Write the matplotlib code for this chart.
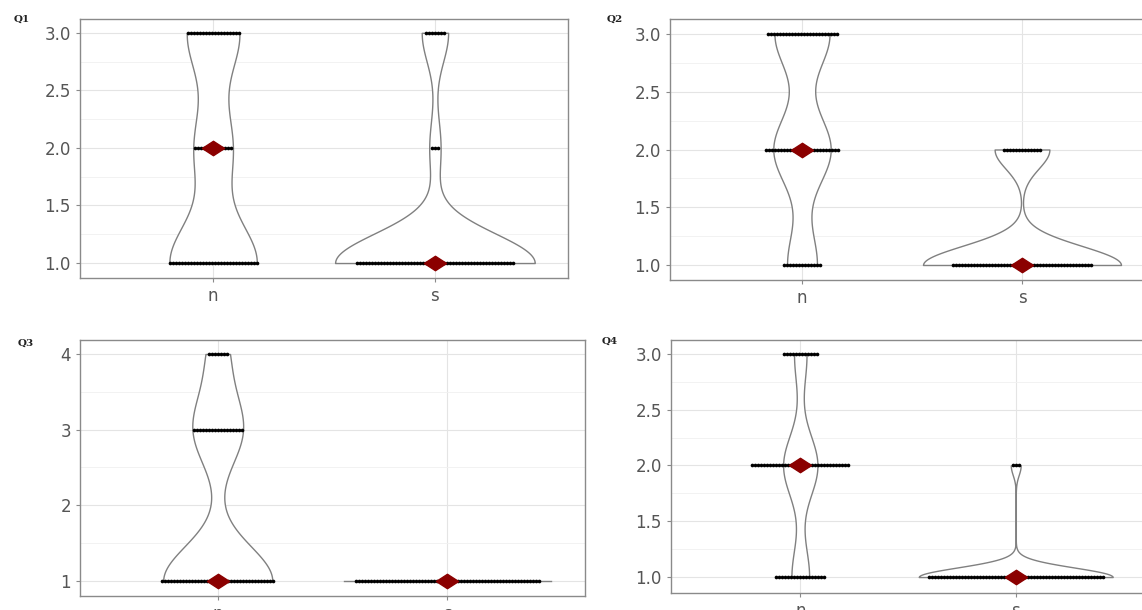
import numpy as np
import matplotlib
matplotlib.use("Agg")
import matplotlib.pyplot as plt
from matplotlib.path import Path

# respostas por grupo: quantidade de respostas em cada nivel
groups = ["n", "s"]

q1_levels = [1, 2, 3]
q1_n = [30, 13, 18]
q1_s = [53, 3, 7]

q2_levels = [1, 2, 3]
q2_n = [13, 25, 24]
q2_s = [47, 13, 0]

q3_levels = [1, 2, 3, 4]
q3_n = [38, 0, 17, 7]
q3_s = [62, 0, 0, 0]

q4_levels = [1, 2, 3]
q4_n = [17, 33, 12]
q4_s = [59, 3, 0]

q1_ticks = [1.0, 1.5, 2.0, 2.5, 3.0]
q3_ticks = [1, 2, 3, 4]


def nrd0(x):
    # mesma regra do bw.nrd0 do R
    hi = np.std(x, ddof=1)
    q75, q25 = np.percentile(x, [75, 25])
    lo = min(hi, (q75 - q25) / 1.34)
    if lo == 0:
        lo = hi if hi > 0 else (abs(x[0]) if x[0] != 0 else 1.0)
    return 0.9 * lo * len(x) ** -0.2


def densidade(x):
    bw = nrd0(x)
    if x.min() == x.max():
        grid = np.array([x[0]])
    else:
        grid = np.linspace(x.min(), x.max(), 512)
    d = np.exp(-0.5 * ((grid[:, None] - x[None, :]) / bw) ** 2).sum(axis=1)
    d = d / (len(x) * bw * np.sqrt(2 * np.pi))
    return grid, d


W, H = 1142, 610
fig = plt.figure(figsize=(W / 100, H / 100), dpi=100)
fig.patch.set_facecolor("white")

# caixas dos paineis em pixels (esq, topo, dir, base)
boxes = [(80, 19, 568, 278), (670, 19, 1154, 280),
         (80, 340, 585, 596), (671, 340, 1145, 593)]
ylims = [(0.87, 3.12), (0.87, 3.13), (0.80, 4.185), (0.857, 3.125)]
titles = ["Q1", "Q2", "Q3", "Q4"]
title_pos = [(14, 22), (607, 22), (18, 346), (602, 344)]
levels_all = [q1_levels, q2_levels, q3_levels, q4_levels]
counts_all = [(q1_n, q1_s), (q2_n, q2_s), (q3_n, q3_s), (q4_n, q4_s)]

diamond = Path([(-1, 0), (0, 0.65), (1, 0), (0, -0.65), (-1, 0)],
               [Path.MOVETO, Path.LINETO, Path.LINETO, Path.LINETO, Path.CLOSEPOLY])

for i in range(4):
    L, T, R, B = boxes[i]
    ax = fig.add_axes([L / W, 1 - B / H, (R - L) / W, (B - T) / H])
    ax.set_xlim(0.4, 2.6)
    ax.set_ylim(*ylims[i])
    ax.set_facecolor("white")

    if i == 2:
        ax.set_yticks(q3_ticks)
        ax.set_yticklabels([str(t) for t in q3_ticks])
        ax.set_yticks([1.5, 2.5, 3.5], minor=True)
    else:
        ax.set_yticks(q1_ticks)
        ax.set_yticklabels([f"{t:.1f}" for t in q1_ticks])
        ax.set_yticks([1.25, 1.75, 2.25, 2.75], minor=True)
    ax.set_xticks([1, 2])
    ax.set_xticklabels(groups)

    ax.grid(True, which="major", color="#e4e4e4", lw=0.8)
    ax.grid(True, which="minor", axis="y", color="#f0f0f0", lw=0.6)
    ax.set_axisbelow(True)
    for sp in ax.spines.values():
        sp.set_color("#8a8a8a")
        sp.set_linewidth(1.0)
    ax.tick_params(axis="both", which="major", colors="#8a8a8a", length=3,
                   labelcolor="#555555", labelsize=12)
    ax.tick_params(axis="both", which="minor", length=0)

    # espacamento dos pontos: 3 px em unidades de x
    dx = 3.0 / ((R - L) / 2.2)

    dados = []
    for cnt in counts_all[i]:
        dados.append(np.repeat(levels_all[i], cnt).astype(float))
    dens = [densidade(x) for x in dados]
    dmax = max(d.max() for _, d in dens)

    for j, x in enumerate(dados):
        x0 = j + 1
        grid, d = dens[j]
        half = 0.45 * d / dmax
        if len(grid) == 1:
            ax.plot([x0 - half[0], x0 + half[0]], [grid[0], grid[0]],
                    color="#808080", lw=1.0, zorder=2)
        else:
            ax.fill_betweenx(grid, x0 - half, x0 + half, facecolor="white",
                             edgecolor="#808080", lw=1.0, zorder=2)
        # dotplot centrado
        for lev, c in zip(levels_all[i], counts_all[i][j]):
            if c == 0:
                continue
            xs = x0 + (np.arange(c) - (c - 1) / 2) * dx
            ax.scatter(xs, np.full(c, lev), s=7, color="black", lw=0, zorder=3)
        ax.plot(x0, np.median(x), marker=diamond, ms=16, color="#8b0000",
                mec="#8b0000", zorder=4)

    fig.text(title_pos[i][0] / W, 1 - title_pos[i][1] / H, titles[i],
             family="DejaVu Serif", fontweight="bold", fontsize=7.5,
             color="#222222", va="baseline", ha="left")

fig.savefig("out.png", dpi=100)
